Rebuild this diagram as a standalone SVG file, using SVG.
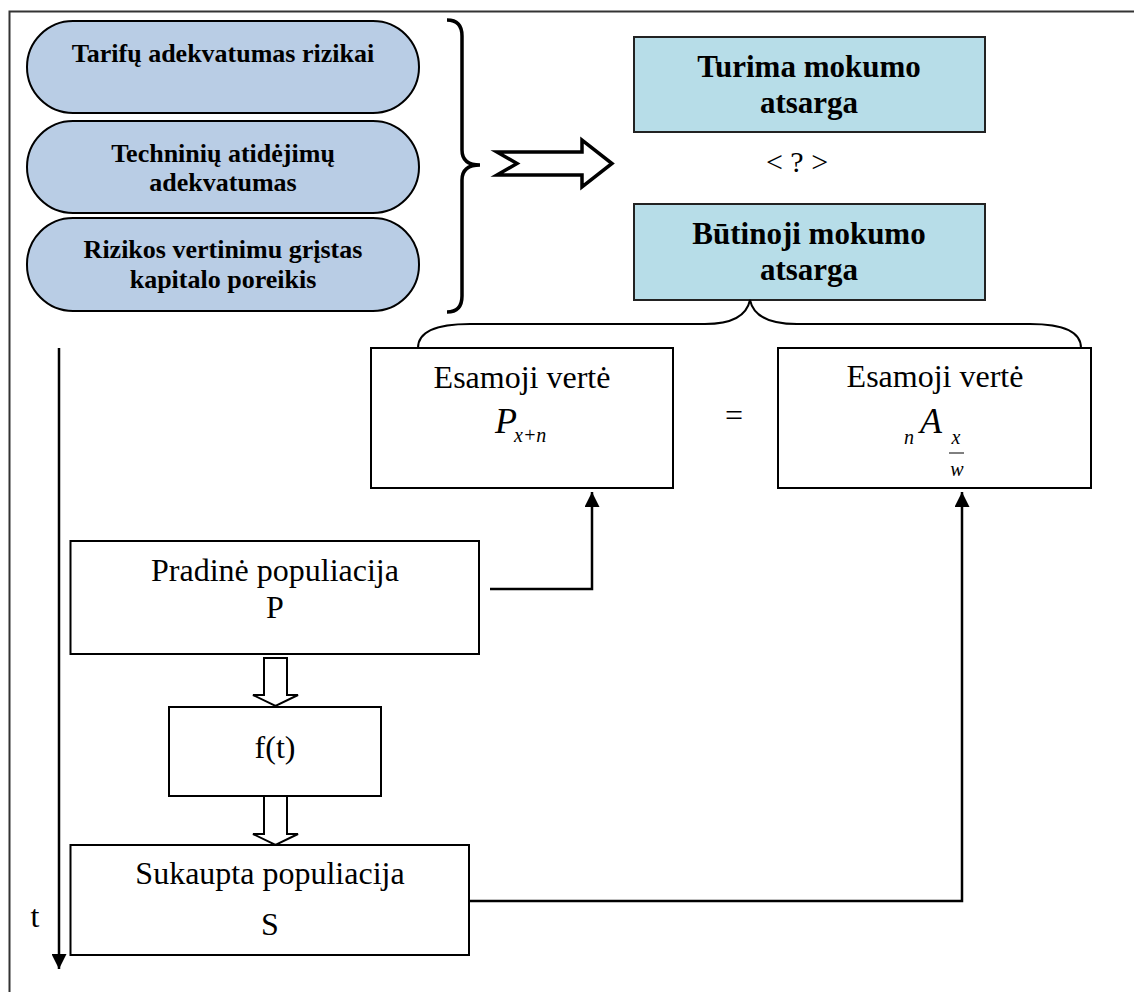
<svg xmlns="http://www.w3.org/2000/svg" width="1134" height="992" viewBox="0 0 1134 992">
<style>
.pill{fill:#B9CDE5;stroke:#000;stroke-width:2}
.blue{fill:#B7DDE8;stroke:#222;stroke-width:2}
.box{fill:#fff;stroke:#000;stroke-width:2}
.tb{font-family:"Liberation Serif","Times New Roman",serif;font-weight:bold;text-anchor:middle;fill:#000}
.tr{font-family:"Liberation Serif","Times New Roman",serif;text-anchor:middle;fill:#000}
.ti{font-family:"Liberation Serif","Times New Roman",serif;font-style:italic;fill:#000}
.conn{fill:none;stroke:#000;stroke-width:2.5}
.hollow{fill:#fff;stroke:#000;stroke-width:2}
</style>
<defs>
<marker id="ah" viewBox="0 0 10 10" refX="10" refY="5" markerWidth="6" markerHeight="6" markerUnits="strokeWidth" orient="auto">
<path d="M0,0 L10,5 L0,10 Z" fill="#000"/>
</marker>
</defs>
<rect width="1134" height="992" fill="#fff"/>
<g id="frame">
<path d="M9.5,992 L9.5,11.5 L1134,11.5" fill="none" stroke="#333" stroke-width="2"/>
</g>
<g id="pill1">
<rect class="pill" x="27" y="21" width="392" height="92" rx="46" ry="46"/>
<text class="tb" x="223" y="62" font-size="26">Tarifų adekvatumas rizikai</text>
</g>
<g id="pill2">
<rect class="pill" x="27" y="121" width="392" height="92" rx="46" ry="46"/>
<text class="tb" x="223" y="162" font-size="26">Techninių atidėjimų</text>
<text class="tb" x="223" y="191" font-size="26">adekvatumas</text>
</g>
<g id="pill3">
<rect class="pill" x="27" y="218" width="392" height="93" rx="46" ry="46"/>
<text class="tb" x="223" y="258" font-size="26">Rizikos vertinimu grįstas</text>
<text class="tb" x="223" y="288" font-size="26">kapitalo poreikis</text>
</g>
<g id="brace-top">
<path d="M447,20 Q462,20 462,36 L462,150 Q462,165 480,165 Q462,165 462,180 L462,296 Q462,312 447,312" fill="none" stroke="#000" stroke-width="3.5"/>
</g>
<g id="block-arrow">
<polygon points="497,152 582,152 582,140 612,163.5 582,187 582,175 497,175 517,163.5" fill="#fff" stroke="#000" stroke-width="3.5" stroke-linejoin="miter"/>
</g>
<g id="turima">
<rect class="blue" x="634" y="37" width="351" height="95"/>
<text class="tb" x="809" y="77" font-size="31">Turima mokumo</text>
<text class="tb" x="809" y="113" font-size="31">atsarga</text>
</g>
<g id="compare">
<text class="tr" x="797" y="172" font-size="30">&lt; ? &gt;</text>
</g>
<g id="butinoji">
<rect class="blue" x="634" y="204" width="351" height="96"/>
<text class="tb" x="809" y="244" font-size="31">Būtinoji mokumo</text>
<text class="tb" x="809" y="280" font-size="31">atsarga</text>
</g>
<g id="brace-bottom">
<path d="M418,348 Q418,324 470,324 L705,324 Q745,324 750,300 Q755,324 797,324 L1030,324 Q1081,324 1081,348" fill="none" stroke="#000" stroke-width="2"/>
</g>
<g id="esamoji-left">
<rect class="box" x="371" y="348" width="302" height="140"/>
<text class="tr" x="522" y="388" font-size="32">Esamoji vertė</text>
<text class="ti" x="495" y="433" font-size="36">P</text>
<text class="ti" x="514" y="442" font-size="20">x+n</text>
</g>
<g id="equals">
<text class="tr" x="734" y="426" font-size="32">=</text>
</g>
<g id="esamoji-right">
<rect class="box" x="778" y="348" width="313" height="140"/>
<text class="tr" x="935" y="387" font-size="32">Esamoji vertė</text>
<text class="ti" x="904" y="444" font-size="20">n</text>
<text class="ti" x="920" y="433" font-size="36">A</text>
<text class="ti" x="956" y="444" font-size="20" text-anchor="middle">x</text>
<line x1="949" y1="453" x2="964" y2="453" stroke="#000" stroke-width="1"/>
<text class="ti" x="957" y="476" font-size="20" text-anchor="middle">w</text>
</g>
<g id="pradine">
<rect class="box" x="70.5" y="541" width="408.5" height="113"/>
<text class="tr" x="275" y="581" font-size="32">Pradinė populiacija</text>
<text class="tr" x="275" y="618" font-size="32">P</text>
</g>
<g id="ft">
<rect class="box" x="169" y="707" width="212" height="89"/>
<text class="tr" x="275" y="758" font-size="32">f(t)</text>
</g>
<g id="sukaupta">
<rect class="box" x="70.5" y="845" width="398.5" height="110"/>
<text class="tr" x="270" y="884" font-size="32">Sukaupta populiacija</text>
<text class="tr" x="270" y="935" font-size="32">S</text>
</g>
<g id="time-label">
<text class="tr" x="35" y="927" font-size="32">t</text>
</g>
<g id="connectors">
<polyline class="conn" points="490,589 592,589 592,492" marker-end="url(#ah)"/>
<polyline class="conn" points="469,901 962,901 962,492" marker-end="url(#ah)"/>
<line class="conn" x1="59" y1="348" x2="59" y2="969" marker-end="url(#ah)"/>
<polygon class="hollow" points="264,658 287,658 287,695 298,695 275.5,706 253,695 264,695"/>
<polygon class="hollow" points="264,796 287,796 287,834 298,834 275.5,845 253,834 264,834"/>
</g>
</svg>
